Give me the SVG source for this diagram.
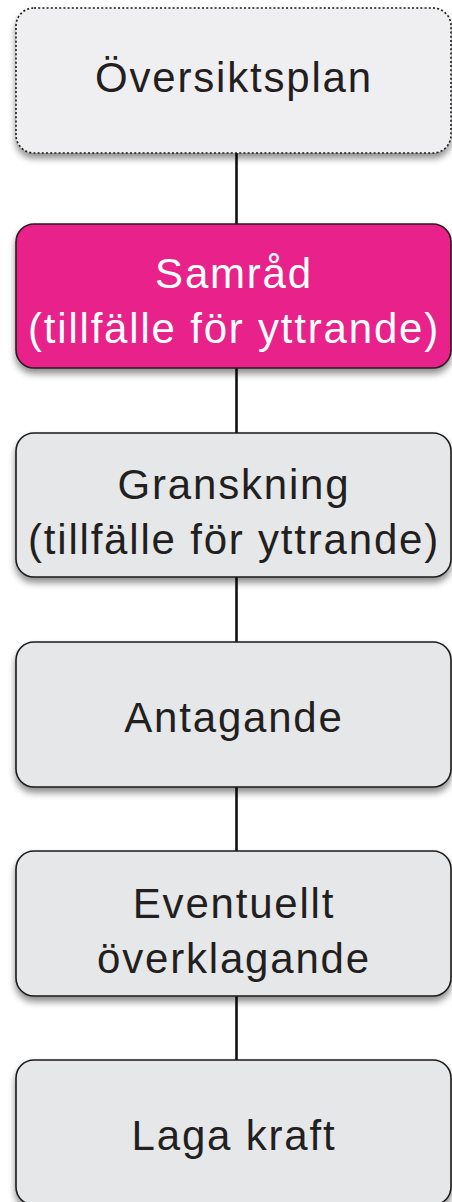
<svg xmlns="http://www.w3.org/2000/svg" width="452" height="1202" viewBox="0 0 452 1202">
  <defs>
    <filter id="shadow" x="-10%" y="-10%" width="120%" height="130%">
      <feGaussianBlur in="SourceAlpha" stdDeviation="3.5"/>
      <feOffset dx="0" dy="5" result="b"/>
      <feComponentTransfer><feFuncA type="linear" slope="0.45"/></feComponentTransfer>
      <feMerge><feMergeNode/><feMergeNode in="SourceGraphic"/></feMerge>
    </filter>
    <style>
      .box { fill: #e6e7e9; stroke: #1a1a1a; stroke-width: 1.6; filter: url(#shadow); }
      .plan { fill: #efeff1; stroke: #1a1a1a; stroke-width: 1.6; stroke-dasharray: 2 2.2; filter: url(#shadow); }
      .active { fill: #e8228a; stroke: #2a1a22; stroke-width: 1.6; filter: url(#shadow); }
      .label { font-family: "Liberation Sans", Arial, sans-serif; font-size: 42px; letter-spacing: 1.8px; fill: #231f20; text-anchor: middle; }
      .light { fill: #ffffff; }
      .link { stroke: #111111; stroke-width: 2.6; fill: none; }
    </style>
  </defs>
  <rect width="452" height="1202" fill="#ffffff"/>

  <!-- connectors between the process steps -->
  <g id="connectors">
    <line class="link" x1="236.5" y1="153" x2="236.5" y2="224"/>
    <line class="link" x1="236.5" y1="368" x2="236.5" y2="433"/>
    <line class="link" x1="236.5" y1="577" x2="236.5" y2="642"/>
    <line class="link" x1="236.5" y1="787" x2="236.5" y2="851"/>
    <line class="link" x1="236.5" y1="996" x2="236.5" y2="1060"/>
  </g>

  <g id="oversiktsplan">
    <rect class="plan" x="16" y="8" width="435" height="145" rx="18"/>
    <text class="label" x="234" y="92">Översiktsplan</text>
  </g>

  <g id="samrad">
    <rect class="active" x="16" y="224" width="435" height="144" rx="18"/>
    <text class="label light" x="234" y="288">Samråd</text>
    <text class="label light" x="234" y="343">(tillfälle för yttrande)</text>
  </g>

  <g id="granskning">
    <rect class="box" x="16" y="433" width="435" height="144" rx="18"/>
    <text class="label" x="234" y="499">Granskning</text>
    <text class="label" x="234" y="554">(tillfälle för yttrande)</text>
  </g>

  <g id="antagande">
    <rect class="box" x="16" y="642" width="435" height="145" rx="18"/>
    <text class="label" x="234" y="732">Antagande</text>
  </g>

  <g id="overklagande">
    <rect class="box" x="16" y="851" width="435" height="145" rx="18"/>
    <text class="label" x="234" y="918">Eventuellt</text>
    <text class="label" x="234" y="973">överklagande</text>
  </g>

  <g id="laga-kraft">
    <rect class="box" x="16" y="1060" width="435" height="145" rx="18"/>
    <text class="label" x="234" y="1150">Laga kraft</text>
  </g>
</svg>
